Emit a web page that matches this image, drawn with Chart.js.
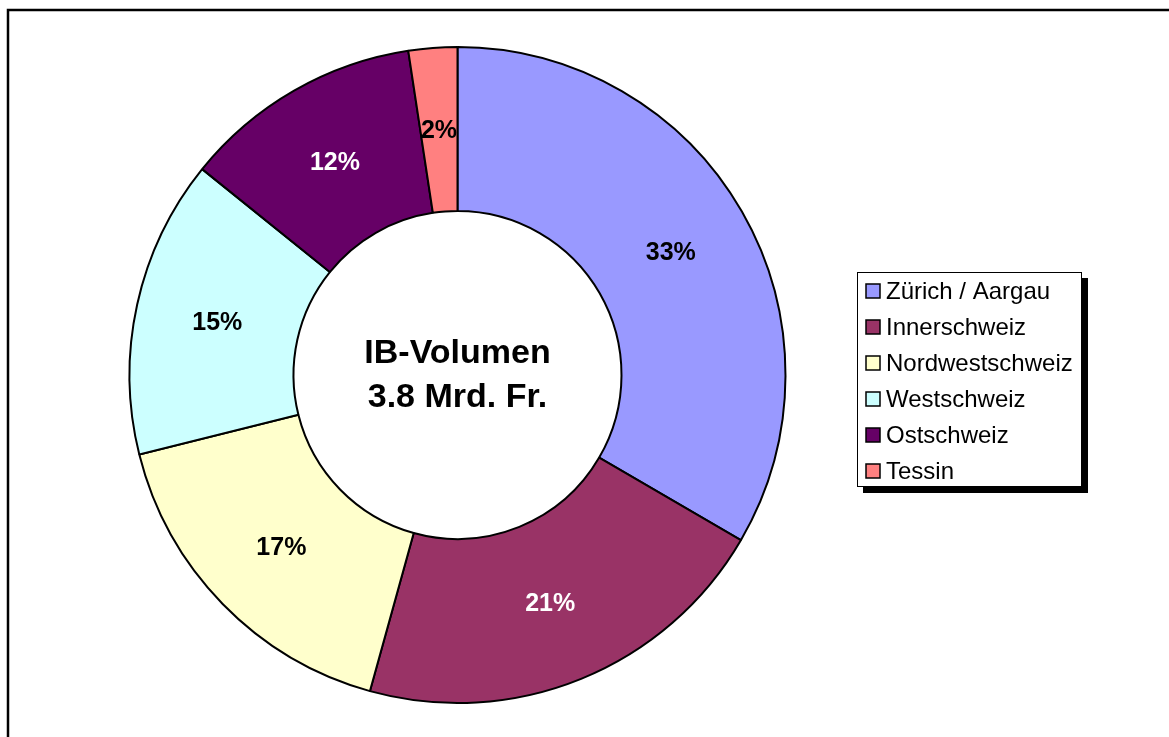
<!DOCTYPE html>
<html>
<head>
<meta charset="utf-8">
<script src="https://cdn.jsdelivr.net/npm/chart.js@4/dist/chart.umd.min.js"></script>
<style>
  html, body { margin: 0; padding: 0; background: #fff; overflow: hidden; }
  canvas { display: block; }
</style>
</head>
<body>
<canvas id="ibChart" width="1169" height="737"></canvas>
<script>
// Data
const regions = ['Zürich / Aargau', 'Innerschweiz', 'Nordwestschweiz', 'Westschweiz', 'Ostschweiz', 'Tessin'];
const shares = [33.4, 20.9, 16.8, 14.7, 11.8, 2.4];
const centerLines = ['IB-Volumen', '3.8 Mrd. Fr.'];

// Styles (kept apart from the data)
const sliceColors = ['#9999FF', '#993366', '#FFFFCC', '#CCFFFF', '#660066', '#FF8080'];
const labelColors = ['#000', '#fff', '#000', '#000', '#fff', '#000'];
const FONT = '"Liberation Sans", Arial, Helvetica, sans-serif';

//////////////////////////////////////////////
// Outer frame around the whole chart
//////////////////////////////////////////////
const framePlugin = {
    id: 'frame',
    beforeDraw(chart) {
        const ctx = chart.ctx;
        ctx.save();
        ctx.fillStyle = '#fff';
        ctx.fillRect(0, 0, chart.width, chart.height);
        ctx.strokeStyle = '#000';
        ctx.lineWidth = 2.5;
        ctx.strokeRect(8, 10, chart.width + 20, chart.height + 20);
        ctx.restore();
    }
};

//////////////////////////////////////////////
// Percent labels in the middle of each ring piece + centre text
//////////////////////////////////////////////
const labelPlugin = {
    id: 'sliceLabels',
    afterDatasetsDraw(chart) {
        const ctx = chart.ctx;
        const meta = chart.getDatasetMeta(0);
        const data = chart.data.datasets[0].data;
        const total = data.reduce((a, b) => a + b, 0);

        ctx.save();
        ctx.textAlign = 'center';
        ctx.textBaseline = 'middle';
        ctx.font = 'bold 25px ' + FONT;
        meta.data.forEach((arc, i) => {
            const p = arc.getCenterPoint();
            ctx.fillStyle = labelColors[i];
            ctx.fillText(Math.round(data[i] / total * 100) + '%', p.x, p.y + 1);
        });

        // centre text
        const cx = meta.data[0].x;
        const cy = meta.data[0].y;
        ctx.fillStyle = '#000';
        ctx.font = 'bold 34px ' + FONT;
        ctx.fillText(centerLines[0], cx, cy - 21);
        ctx.fillText(centerLines[1], cx, cy + 23);
        ctx.restore();
    }
};

//////////////////////////////////////////////
// Boxed legend with drop shadow
//////////////////////////////////////////////
const legendBoxPlugin = {
    id: 'legendBox',
    afterDraw(chart) {
        const ctx = chart.ctx;
        const x = 857, y = 272, w = 225, h = 215;
        ctx.save();
        // shadow
        ctx.fillStyle = '#000';
        ctx.fillRect(x + 6, y + 6, w, h);
        ctx.fillStyle = '#fff';
        ctx.fillRect(x, y, w, h);
        ctx.strokeStyle = '#000';
        ctx.lineWidth = 1;
        ctx.strokeRect(x + 0.5, y + 0.5, w - 1, h - 1);

        ctx.font = '24px ' + FONT;
        ctx.textBaseline = 'middle';
        ctx.textAlign = 'left';
        chart.data.labels.forEach((lab, i) => {
            const rowY = 291 + i * 36;
            ctx.fillStyle = sliceColors[i];
            ctx.fillRect(866, rowY - 7, 14, 14);
            ctx.strokeStyle = '#000';
            ctx.lineWidth = 1.5;
            ctx.strokeRect(866, rowY - 7, 14, 14);
            ctx.fillStyle = '#000';
            ctx.fillText(lab, 886, rowY + 1);
        });
        ctx.restore();
    }
};

//////////////////////////////////////////////
// Chart
//////////////////////////////////////////////
const ctx = document.getElementById('ibChart').getContext('2d');
const ibChart = new Chart(ctx, {
    type: 'doughnut',
    data: {
        labels: regions,
        datasets: [{
            data: shares,
            backgroundColor: sliceColors,
            borderColor: '#000',
            borderWidth: 2,
            hoverOffset: 0
        }]
    },
    options: {
        responsive: false,
        animation: false,
        cutout: '50%',
        layout: {
            padding: { left: 128, top: 46, right: 382, bottom: 33 }
        },
        plugins: {
            legend: { display: false },
            tooltip: { enabled: false },
            title: { display: false }
        }
    },
    plugins: [framePlugin, labelPlugin, legendBoxPlugin]
});
</script>
</body>
</html>
